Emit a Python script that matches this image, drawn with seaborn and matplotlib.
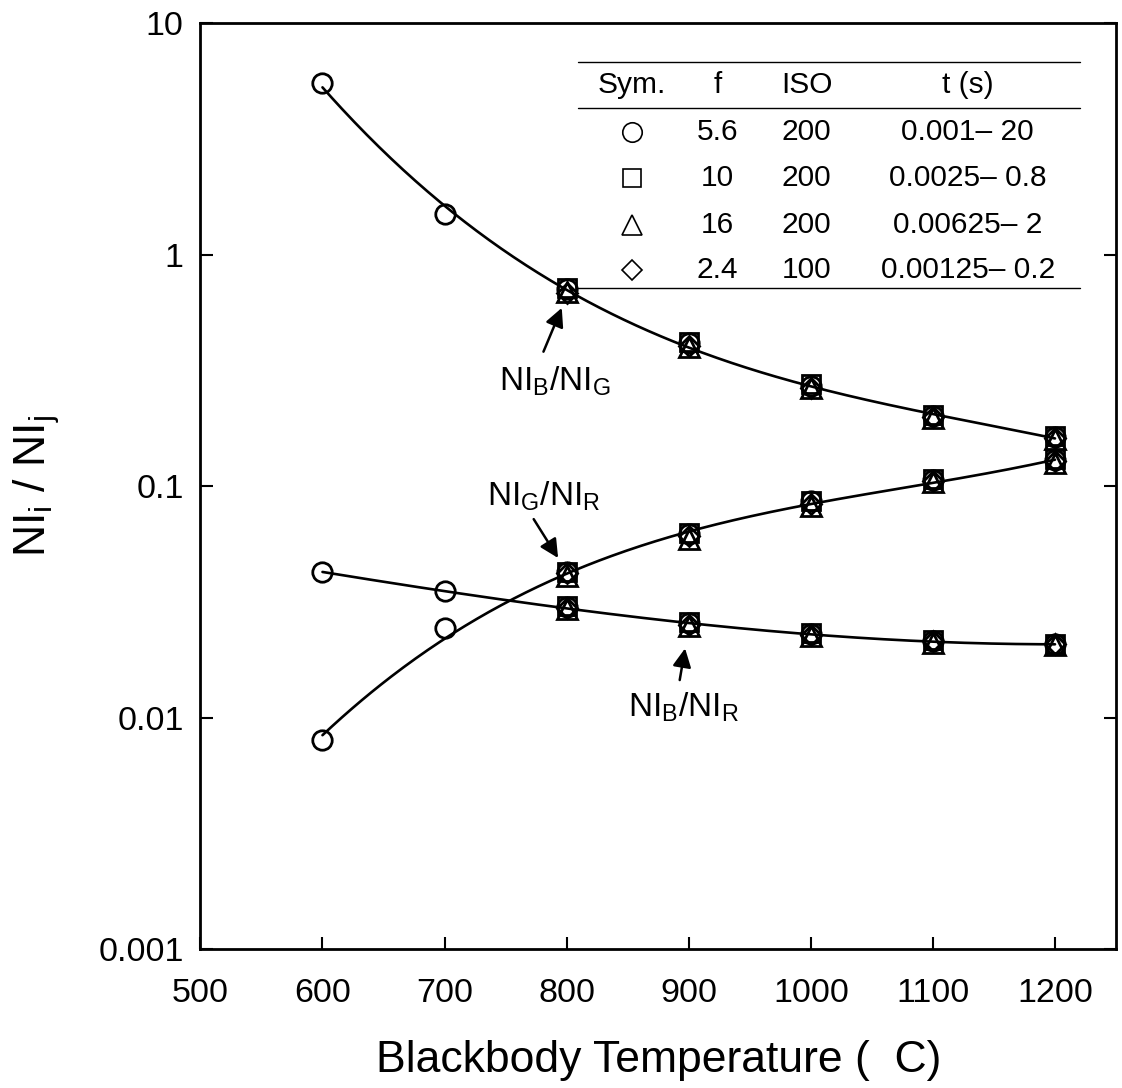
import numpy as np
import pandas as pd
import matplotlib
matplotlib.use("Agg")
import matplotlib.pyplot as plt
import seaborn as sns

# Blackbody temperatures (deg C)
temps_all = [600, 700, 800, 900, 1000, 1100, 1200]
temps_set = [800, 900, 1000, 1100, 1200]

# NI_B / NI_G
bg_circle = [5.5, 1.5, 0.71, 0.415, 0.272, 0.201, 0.163]
bg_square = [0.72, 0.42, 0.276, 0.203, 0.165]
bg_triangle = [0.69, 0.40, 0.266, 0.197, 0.160]
bg_diamond = [0.68, 0.405, 0.265, 0.198, 0.162]

# NI_G / NI_R
gr_circle = [0.0080, 0.0243, 0.0425, 0.062, 0.086, 0.106, 0.130]
gr_square = [0.0425, 0.063, 0.086, 0.107, 0.131]
gr_triangle = [0.0410, 0.059, 0.082, 0.104, 0.126]
gr_diamond = [0.0420, 0.061, 0.084, 0.105, 0.128]

# NI_B / NI_R
br_circle = [0.0424, 0.0352, 0.0300, 0.0255, 0.0230, 0.0215, 0.0207]
br_square = [0.0302, 0.0260, 0.0232, 0.0216, 0.0208]
br_triangle = [0.0293, 0.0248, 0.0225, 0.0210, 0.0205]
br_diamond = [0.0298, 0.0252, 0.0228, 0.0215, 0.0207]

# Camera settings table
sym_col = ["o", "s", "^", "D"]
f_col = ["5.6", "10", "16", "2.4"]
iso_col = ["200", "200", "200", "100"]
t_col = ["0.001\u2013 20", "0.0025\u2013 0.8", "0.00625\u2013 2", "0.00125\u2013 0.2"]

sns.set_theme(style="ticks")
plt.rcParams["font.family"] = ["Liberation Sans", "DejaVu Sans"]
plt.rcParams["mathtext.fontset"] = "custom"
plt.rcParams["mathtext.rm"] = "Liberation Sans"
plt.rcParams["text.color"] = "black"
plt.rcParams["axes.labelcolor"] = "black"

rows = []
def add(ratio, sym, temps, vals):
    for t, v in zip(temps, vals):
        rows.append({"ratio": ratio, "sym": sym, "T": t, "value": v})

add("BG", "o", temps_all, bg_circle)
add("BG", "s", temps_set, bg_square)
add("BG", "^", temps_set, bg_triangle)
add("BG", "D", temps_set, bg_diamond)
add("GR", "o", temps_all, gr_circle)
add("GR", "s", temps_set, gr_square)
add("GR", "^", temps_set, gr_triangle)
add("GR", "D", temps_set, gr_diamond)
add("BR", "o", temps_all, br_circle)
add("BR", "s", temps_set, br_square)
add("BR", "^", temps_set, br_triangle)
add("BR", "D", temps_set, br_diamond)
df = pd.DataFrame(rows)

marker_size = {"o": 14, "s": 13.5, "^": 14, "D": 10}

fig = plt.figure(figsize=(11.22, 10.88), dpi=100)
ax = fig.add_axes([0.1786, 0.1278, 0.8161, 0.8508])

# smooth fits in log space through each ratio's data
grid = np.linspace(600, 1200, 300)
for ratio in ["BG", "GR", "BR"]:
    sub = df[df["ratio"] == ratio]
    coef = np.polyfit(sub["T"], np.log10(sub["value"]), 3)
    fit = 10 ** np.polyval(coef, grid)
    sns.lineplot(x=grid, y=fit, ax=ax, color="black", lw=1.9,
                 estimator=None, errorbar=None)

for ratio in ["BG", "GR", "BR"]:
    for m in ["o", "s", "^", "D"]:
        sub = df[(df["ratio"] == ratio) & (df["sym"] == m)]
        sns.lineplot(data=sub, x="T", y="value", ax=ax, estimator=None,
                     errorbar=None, linestyle="", marker=m,
                     markersize=marker_size[m], markerfacecolor="none",
                     markeredgecolor="black", markeredgewidth=2.0,
                     color="black")

ax.set_yscale("log")
ax.set_xlim(500, 1250)
ax.set_ylim(0.001, 10)
ax.set_xticks([500, 600, 700, 800, 900, 1000, 1100, 1200])
ax.set_xticklabels(["500", "600", "700", "800", "900", "1000", "1100", "1200"])
ax.set_yticks([0.001, 0.01, 0.1, 1, 10])
ax.set_yticklabels(["0.001", "0.01", "0.1", "1", "10"])
ax.yaxis.set_minor_locator(matplotlib.ticker.NullLocator())
ax.tick_params(axis="both", which="major", direction="in", length=9,
               width=1.5, labelsize=24.5, colors="black",
               top=False, right=True)
ax.tick_params(axis="x", pad=21)
ax.tick_params(axis="y", pad=12)
for s in ax.spines.values():
    s.set_linewidth(2.0)
    s.set_color("black")
    s.set_visible(True)
ax.grid(False)

ax.set_xlabel("Blackbody Temperature (  C)", fontsize=32, labelpad=22)
ax.set_ylabel(r"NI$_{\mathregular{i}}$ / NI$_{\mathregular{j}}$", fontsize=32)
ax.yaxis.set_label_coords(-0.151, 0.5)

# curve labels with arrows
arrow = dict(arrowstyle="-|>", color="black", lw=1.8, mutation_scale=28,
             shrinkA=0, shrinkB=0)
ax.annotate("", xy=(796, 0.589), xytext=(781, 0.381), arrowprops=arrow)
ax.text(790, 0.260, r"NI$_{\mathregular{B}}$/NI$_{\mathregular{G}}$",
        fontsize=24, ha="center", va="baseline")
ax.annotate("", xy=(793, 0.0489), xytext=(773, 0.0720), arrowprops=arrow)
ax.text(781, 0.0830, r"NI$_{\mathregular{G}}$/NI$_{\mathregular{R}}$",
        fontsize=24, ha="center", va="baseline")
ax.annotate("", xy=(897, 0.0199), xytext=(892.6, 0.01452), arrowprops=arrow)
ax.text(896, 0.0101, r"NI$_{\mathregular{B}}$/NI$_{\mathregular{R}}$",
        fontsize=24, ha="center", va="baseline")

# settings table inside the axes
tr = ax.transAxes
x0, x1 = 0.412, 0.961
for yl in [0.9585, 0.9088, 0.7137]:
    ax.plot([x0, x1], [yl, yl], transform=tr, color="black", lw=1.0,
            clip_on=False)
col_x = [0.471, 0.565, 0.662, 0.838]
header = ["Sym.", "f", "ISO", "t (s)"]
for cx, h in zip(col_x, header):
    ax.text(cx, 0.9333, h, transform=tr, fontsize=21.5, ha="center",
            va="center")
row_y = [0.8829, 0.8326, 0.7821, 0.7335]
for ry, m, fv, iso, tv in zip(row_y, sym_col, f_col, iso_col, t_col):
    ax.plot([col_x[0]], [ry], transform=tr, marker=m,
            markersize=marker_size[m], markerfacecolor="none",
            markeredgecolor="black", markeredgewidth=1.2, linestyle="")
    ax.text(col_x[1], ry, fv, transform=tr, fontsize=21.5, ha="center", va="center")
    ax.text(col_x[2], ry, iso, transform=tr, fontsize=21.5, ha="center", va="center")
    ax.text(col_x[3], ry, tv, transform=tr, fontsize=21.5, ha="center", va="center")

fig.savefig("out.png", dpi=100)
